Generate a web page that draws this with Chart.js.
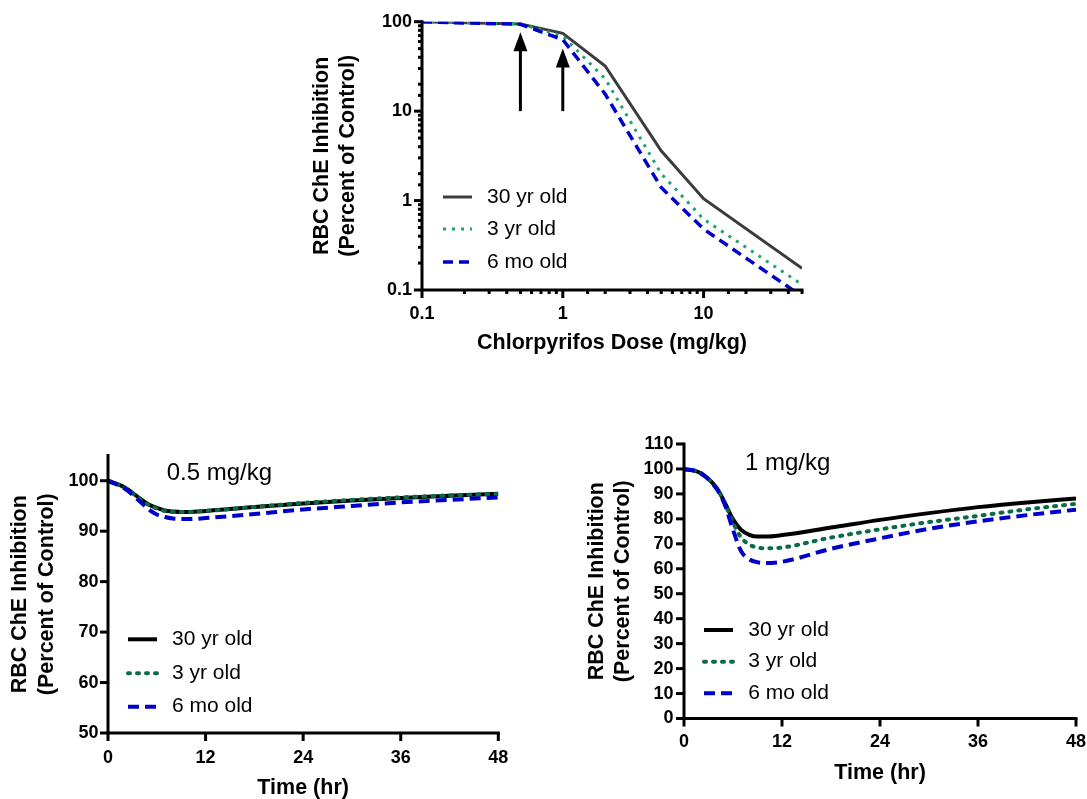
<!DOCTYPE html>
<html>
<head>
<meta charset="utf-8">
<script src="https://cdn.jsdelivr.net/npm/chart.js@4.4.1/dist/chart.umd.min.js"></script>
<style>
  html, body { margin: 0; padding: 0; background: #fff; width: 1087px; height: 799px; overflow: hidden; }
  canvas { position: absolute; }
</style>
</head>
<body>
<canvas id="dose-chart" width="540" height="370" style="left:290px;top:0px"></canvas>
<canvas id="low-chart" width="540" height="380" style="left:0px;top:430px"></canvas>
<canvas id="high-chart" width="527" height="380" style="left:560px;top:420px"></canvas>
<script>
const FONT = "'Liberation Sans', Arial, Helvetica, sans-serif";
const AGE_LABELS = ["30 yr old", "3 yr old", "6 mo old"];

// dose-response, RBC ChE (% of control)
const doses = [0.1, 0.5, 1, 2, 5, 10, 50];
const dose30yr = [99.6, 94.5, 74, 32, 3.6, 1.05, 0.175];
const dose3yr = [99.6, 94.5, 69, 23, 2.0, 0.62, 0.115];
const dose6mo = [99.6, 93.5, 63, 15.5, 1.4, 0.48, 0.085];

// arrows marking the two doses used below
const arrowDoses = [0.5, 1];
const arrowBase = [10, 10];
const arrowTip = [76, 50];

// time courses (hr)
const hours = [0, 2, 4, 5, 6, 7, 8, 9, 10, 12, 18, 24, 30, 36, 42, 48];
const low30yr = [100, 98.7, 96.4, 95.3, 94.6, 94.1, 93.9, 93.8, 93.8, 94.0, 94.8, 95.5, 96.1, 96.6, 97.0, 97.4];
const low3yr = [100, 98.7, 96.3, 95.2, 94.5, 94.0, 93.8, 93.8, 93.8, 94.0, 94.8, 95.6, 96.2, 96.7, 97.1, 97.4];
const low6mo = [100, 98.5, 95.8, 94.3, 93.3, 92.8, 92.5, 92.4, 92.4, 92.6, 93.4, 94.3, 95.0, 95.7, 96.2, 96.7];
const high30yr = [100, 98.4, 92.4, 86.5, 79.8, 75.6, 73.6, 72.9, 72.9, 73.5, 76.5, 79.6, 82.3, 84.7, 86.6, 88.2];
const high3yr = [100, 98.4, 92.2, 86.2, 78.5, 72.5, 69.7, 68.5, 68.2, 68.5, 72.5, 75.8, 78.7, 81.2, 83.8, 86.0];
const high6mo = [100, 98.4, 92.0, 85.7, 75.6, 67.0, 63.8, 62.6, 62.3, 62.8, 68.0, 72.2, 76.0, 79.0, 81.5, 83.7];

const TOP_STYLES = [
  { borderColor: "#3c3c3c", borderWidth: 3, borderDash: [], order: 2 },
  { borderColor: "#1fa171", borderWidth: 3, borderDash: [3, 6], order: 1 },
  { borderColor: "#0000cc", borderWidth: 3.5, borderDash: [10, 6], order: 0 },
];
const BOTTOM_STYLES = [
  { borderColor: "#000000", borderWidth: 4, borderDash: [], order: 2 },
  { borderColor: "#0b6b47", borderWidth: 4, borderDash: [2, 7], borderCapStyle: "round", order: 1 },
  { borderColor: "#0000cc", borderWidth: 4, borderDash: [11, 6], order: 0 },
];

function makeDatasets(xs, series, styles, smooth) {
  return series.map((ys, i) => ({
    label: AGE_LABELS[i],
    data: xs.map((x, j) => ({ x: x, y: ys[j] })),
    fill: false,
    pointRadius: 0,
    tension: 0,
    cubicInterpolationMode: smooth ? "monotone" : "default",
    ...styles[i],
  }));
}

// force the axis boxes to a fixed size so the plot area lands where it should
function fixedBox(size) {
  return (scale) => {
    if (scale.isHorizontal()) scale.height = size;
    else scale.width = size;
    scale.paddingLeft = 0;
    scale.paddingRight = 0;
    scale.paddingTop = 0;
    scale.paddingBottom = 0;
  };
}

const isDecade = (v) => Math.abs(Math.log10(v) - Math.round(Math.log10(v))) < 1e-9;

const axisTicks = {
  id: "axisTicks",
  afterDraw(chart, args, opts) {
    const { ctx, chartArea: a, scales } = chart;
    const x = scales.x;
    const y = scales.y;
    ctx.save();
    ctx.strokeStyle = "#000";
    ctx.lineWidth = 3;
    ctx.lineCap = "butt";
    x.ticks.forEach((t) => {
      const px = x.getPixelForValue(t.value);
      const len = x.type !== "logarithmic" || isDecade(t.value) ? opts.major : opts.minor;
      ctx.beginPath();
      ctx.moveTo(px, a.bottom);
      ctx.lineTo(px, a.bottom + len);
      ctx.stroke();
    });
    y.ticks.forEach((t) => {
      const py = y.getPixelForValue(t.value);
      const len = y.type !== "logarithmic" || isDecade(t.value) ? opts.major : opts.minor;
      ctx.beginPath();
      ctx.moveTo(a.left - len, py);
      ctx.lineTo(a.left, py);
      ctx.stroke();
    });
    ctx.lineCap = "square";
    ctx.beginPath();
    ctx.moveTo(a.left, a.top);
    ctx.lineTo(a.left, a.bottom);
    ctx.lineTo(a.right, a.bottom);
    ctx.stroke();
    ctx.restore();
  },
};

const insideLegend = {
  id: "insideLegend",
  afterDraw(chart, args, opts) {
    const ctx = chart.ctx;
    ctx.save();
    ctx.textBaseline = "middle";
    ctx.textAlign = "left";
    chart.data.datasets.forEach((ds, i) => {
      const y = opts.rows[i];
      ctx.beginPath();
      ctx.strokeStyle = ds.borderColor;
      ctx.lineWidth = ds.borderWidth;
      ctx.lineCap = ds.borderCapStyle || "butt";
      ctx.setLineDash(ds.borderDash || []);
      ctx.moveTo(opts.x1, y);
      ctx.lineTo(opts.x2, y);
      ctx.stroke();
      ctx.setLineDash([]);
      ctx.fillStyle = "#000";
      ctx.font = `21px ${FONT}`;
      ctx.fillText(ds.label, opts.textX, y);
    });
    if (opts.note) {
      ctx.font = `24px ${FONT}`;
      ctx.fillText(opts.note, opts.noteX, opts.noteY);
    }
    ctx.restore();
  },
};

const doseArrows = {
  id: "doseArrows",
  afterDatasetsDraw(chart) {
    const { ctx, scales } = chart;
    ctx.save();
    ctx.fillStyle = "#000";
    ctx.strokeStyle = "#000";
    ctx.lineWidth = 3;
    arrowDoses.forEach((d, i) => {
      const px = scales.x.getPixelForValue(d);
      const y0 = scales.y.getPixelForValue(arrowBase[i]);
      const y1 = scales.y.getPixelForValue(arrowTip[i]);
      ctx.beginPath();
      ctx.moveTo(px, y0);
      ctx.lineTo(px, y1 + 15);
      ctx.stroke();
      ctx.beginPath();
      ctx.moveTo(px, y1);
      ctx.lineTo(px - 7, y1 + 19);
      ctx.lineTo(px + 7, y1 + 19);
      ctx.closePath();
      ctx.fill();
    });
    ctx.restore();
  },
};

const tickFont = { family: FONT, size: 18, weight: "bold" };

function axisTitle(text, lineHeight) {
  return {
    display: true,
    text: text,
    color: "#000",
    padding: 0,
    font: { family: FONT, size: 21.5, weight: "bold", lineHeight: lineHeight },
  };
}

function baseOptions(pad, yWidth, xHeight, lineHeight, xPad, yPad) {
  return {
    responsive: false,
    animation: false,
    devicePixelRatio: 1,
    layout: { padding: pad },
    plugins: {
      legend: { display: false },
      tooltip: { enabled: false },
      axisTicks: { major: 8, minor: 4 },
    },
    scales: {
      x: {
        grid: { display: false, drawTicks: false },
        border: { display: false },
        ticks: { color: "#000", font: tickFont, padding: xPad, autoSkip: false, maxRotation: 0 },
        title: axisTitle("", lineHeight),
        afterFit: fixedBox(xHeight),
      },
      y: {
        grid: { display: false, drawTicks: false },
        border: { display: false },
        ticks: { color: "#000", font: tickFont, padding: yPad, autoSkip: false },
        title: axisTitle(["RBC ChE Inhibition", "(Percent of Control)"], lineHeight),
        afterFit: fixedBox(yWidth),
      },
    },
  };
}

// top: dose response on log-log axes
const doseOpts = baseOptions({ left: 18.7, top: 21.7, right: 28, bottom: 14 }, 113.3, 66, "26px", 13.5, 10);
Object.assign(doseOpts.scales.x, { type: "logarithmic", min: 0.1, max: 50 });
Object.assign(doseOpts.scales.y, { type: "logarithmic", min: 0.1, max: 100 });
doseOpts.scales.x.title.text = "Chlorpyrifos Dose (mg/kg)";
const decadeLabel = (v) => (isDecade(v) ? String(Math.pow(10, Math.round(Math.log10(v)))) : "");
doseOpts.scales.x.ticks.callback = decadeLabel;
doseOpts.scales.y.ticks.callback = decadeLabel;
doseOpts.plugins.axisTicks = { major: 8, minor: 4 };
doseOpts.plugins.insideLegend = { x1: 153, x2: 182, textX: 197, rows: [197, 229, 262] };

new Chart(document.getElementById("dose-chart"), {
  type: "line",
  data: { datasets: makeDatasets(doses, [dose30yr, dose3yr, dose6mo], TOP_STYLES, false) },
  options: doseOpts,
  plugins: [axisTicks, insideLegend, doseArrows],
});

// bottom left: 0.5 mg/kg
const lowOpts = baseOptions({ left: 6.7, top: 25.5, right: 41.7, bottom: 8.4 }, 101.3, 68.6, "26.6px", 14, 9.5);
Object.assign(lowOpts.scales.x, { type: "linear", min: 0, max: 48 });
Object.assign(lowOpts.scales.y, { type: "linear", min: 50, max: 105 });
lowOpts.scales.x.ticks.stepSize = 12;
lowOpts.scales.y.ticks.stepSize = 10;
lowOpts.scales.y.ticks.includeBounds = false;
lowOpts.scales.x.title.text = "Time (hr)";
lowOpts.plugins.insideLegend = {
  x1: 128, x2: 157, textX: 172, rows: [209.3, 243.3, 276.7],
  note: "0.5 mg/kg", noteX: 166.7, noteY: 43.3,
};

new Chart(document.getElementById("low-chart"), {
  type: "line",
  data: { datasets: makeDatasets(hours, [low30yr, low3yr, low6mo], BOTTOM_STYLES, true) },
  options: lowOpts,
  plugins: [axisTicks, insideLegend],
});

// bottom right: 1 mg/kg
const highOpts = baseOptions({ left: 23.4, top: 24, right: 11, bottom: 13.4 }, 100.6, 68.1, "26.6px", 13, 10.5);
Object.assign(highOpts.scales.x, { type: "linear", min: 0, max: 48 });
Object.assign(highOpts.scales.y, { type: "linear", min: 0, max: 110 });
highOpts.scales.x.ticks.stepSize = 12;
highOpts.scales.y.ticks.stepSize = 10;
highOpts.scales.x.title.text = "Time (hr)";
highOpts.plugins.insideLegend = {
  x1: 144, x2: 173, textX: 188.3, rows: [210, 241.7, 273.3],
  note: "1 mg/kg", noteX: 185, noteY: 43.3,
};

new Chart(document.getElementById("high-chart"), {
  type: "line",
  data: { datasets: makeDatasets(hours, [high30yr, high3yr, high6mo], BOTTOM_STYLES, true) },
  options: highOpts,
  plugins: [axisTicks, insideLegend],
});
</script>
</body>
</html>
